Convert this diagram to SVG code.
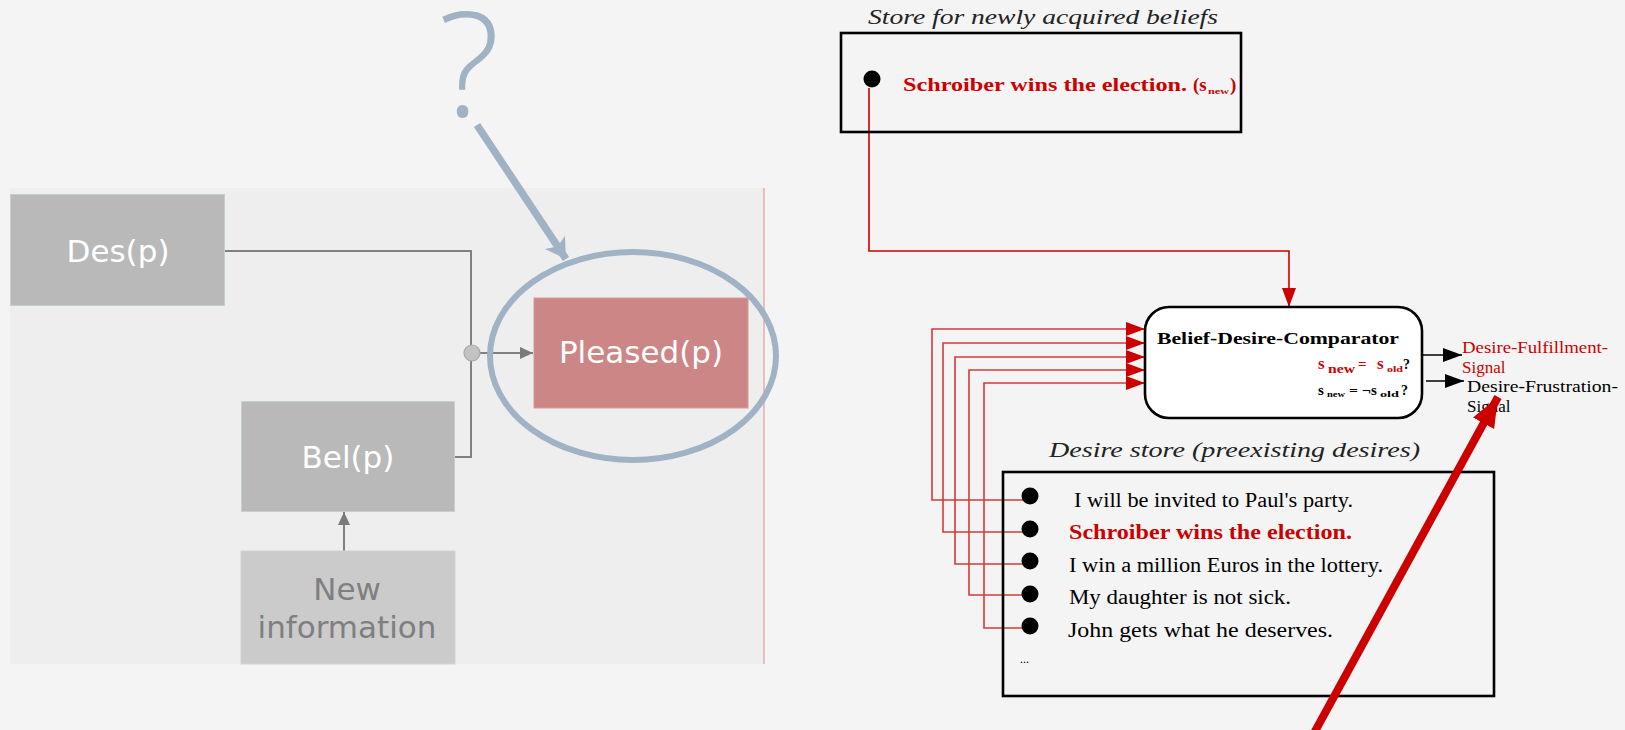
<svg xmlns="http://www.w3.org/2000/svg" width="1625" height="730" viewBox="0 0 1625 730">
<style>
.bg{fill:#f4f4f4}
.panel{fill:#eeeeee}
.gbox{fill:#b9b9b9;stroke:#c6cfcf;stroke-width:1}
.lbl{font-family:"DejaVu Sans",sans-serif;font-size:31px;fill:#ffffff;text-anchor:middle}
.glink{fill:none;stroke:#808080;stroke-width:2}
.rlink{fill:none;stroke:#d13b3b;stroke-width:1.6}
.mlink{fill:none;stroke:#cc0000;stroke-width:1.6}
.store{fill:none;stroke:#000;stroke-width:2.6}
.serif{font-family:"Liberation Serif","Times New Roman",serif}
.it{font-style:italic;font-size:21px;fill:#222}
.item{font-size:20px;fill:#000}
.red{fill:#cc0000}
.bold{font-weight:bold}
</style>
<defs>
<marker id="ag" markerUnits="userSpaceOnUse" markerWidth="14" markerHeight="14" refX="13" refY="6" orient="auto"><path d="M0,0 L13,6 L0,12 Z" fill="#7a7a7a"/></marker>
<marker id="ar" markerUnits="userSpaceOnUse" markerWidth="20" markerHeight="16" refX="19" refY="7" orient="auto"><path d="M0,0 L19,7 L0,14 Z" fill="#cc0000"/></marker>
<marker id="ak" markerUnits="userSpaceOnUse" markerWidth="20" markerHeight="16" refX="19" refY="7" orient="auto"><path d="M0,0 L19,7 L0,14 Z" fill="#000"/></marker>
<marker id="ab" markerUnits="userSpaceOnUse" markerWidth="24" markerHeight="26" refX="20" refY="12" orient="auto"><path d="M0,0 L20,12 L0,24 L5,12 Z" fill="#a0b3c4"/></marker>
<marker id="abig" markerUnits="userSpaceOnUse" markerWidth="32" markerHeight="26" refX="30" refY="12" orient="auto"><path d="M0,0 L30,12 L0,24 Z" fill="#cc0000"/></marker>
</defs>
<rect class="bg" x="0" y="0" width="1625" height="730"/>
<rect class="panel" x="10" y="188" width="754" height="476"/>
<line x1="764" y1="188" x2="764" y2="664" stroke="#e99a9a" stroke-width="1.2"/>

<g id="connectors">
<path class="glink" d="M225,251 H471 V457 H455"/>
<path class="glink" d="M471,353 H533" marker-end="url(#ag)"/>
<path class="glink" d="M344,551 V512" marker-end="url(#ag)"/>
<path class="mlink" d="M869,88 V251 H1289 V307" marker-end="url(#ar)"/>
<path class="rlink" d="M1030,500 H932 V329 H1145" marker-end="url(#ar)"/>
<path class="rlink" d="M1030,532 H943 V343 H1145" marker-end="url(#ar)"/>
<path class="rlink" d="M1030,564 H955 V357 H1145" marker-end="url(#ar)"/>
<path class="rlink" d="M1030,595 H969 V370 H1145" marker-end="url(#ar)"/>
<path class="rlink" d="M1030,628 H984 V383 H1145" marker-end="url(#ar)"/>
<path d="M1422,355 H1462" stroke="#000" stroke-width="1.6" fill="none" marker-end="url(#ak)"/>
<path d="M1426,381 H1464" stroke="#000" stroke-width="1.6" fill="none" marker-end="url(#ak)"/>
</g>

<g id="des">
<rect class="gbox" x="10.5" y="194.5" width="214" height="111"/>
<text class="lbl" x="118" y="262">Des(p)</text>
</g>
<g id="bel">
<rect class="gbox" x="241.5" y="401.5" width="213" height="110"/>
<text class="lbl" x="348" y="468">Bel(p)</text>
</g>
<g id="newinfo">
<rect x="241" y="551" width="214" height="113" fill="#cbcbcb" stroke="#d2d2d2" stroke-width="1"/>
<text class="lbl" x="347" y="600" style="fill:#7f7f7f">New</text>
<text class="lbl" x="347" y="638" style="fill:#7f7f7f">information</text>
</g>
<g id="junction">
<circle cx="472" cy="353" r="8" fill="#c2c2c2" stroke="#a9a9a9" stroke-width="1.2"/>
</g>
<g id="pleased">
<rect x="534" y="298" width="214" height="110" fill="#cc8686" stroke="#d49a9a" stroke-width="1"/>
<text class="lbl" x="641" y="363">Pleased(p)</text>
</g>

<g id="question">
<text x="469" y="117" font-family="'Open Sans',sans-serif" font-weight="300" font-size="146" fill="#a0b3c4" text-anchor="middle">?</text>
<line x1="477" y1="125" x2="566" y2="259" stroke="#a0b3c4" stroke-width="7.5" marker-end="url(#ab)"/>
<ellipse cx="633" cy="356" rx="143" ry="104" fill="none" stroke="#a0b3c4" stroke-width="6"/>
</g>

<g id="belief-store">
<text class="serif it" x="868" y="24" textLength="350" lengthAdjust="spacingAndGlyphs">Store for newly acquired beliefs</text>
<rect class="store" x="841" y="33" width="400" height="99"/>
<circle cx="872" cy="79" r="8.5" fill="#000"/>
<text class="serif red bold" x="903" y="91" font-size="19" textLength="284" lengthAdjust="spacingAndGlyphs">Schroiber wins the election.</text>
<text class="serif red bold" x="1193" y="91" font-size="19">(s</text>
<text class="serif red bold" x="1208" y="94" font-size="9" textLength="21" lengthAdjust="spacingAndGlyphs">new</text>
<text class="serif red bold" x="1230" y="91" font-size="19">)</text>
</g>

<g id="comparator">
<rect x="1145" y="307" width="277" height="111" rx="24" ry="24" fill="#ffffff" stroke="#000" stroke-width="2.6"/>
<text class="serif bold" x="1157" y="344" font-size="17" textLength="242" lengthAdjust="spacingAndGlyphs">Belief-Desire-Comparator</text>
<text class="serif bold red" x="1318" y="369" font-size="17">s</text>
<text class="serif bold red" x="1328" y="373" font-size="12" textLength="27" lengthAdjust="spacingAndGlyphs">new</text>
<text class="serif bold red" x="1358" y="369" font-size="15">=</text>
<text class="serif bold red" x="1377" y="369" font-size="17">s</text>
<text class="serif bold red" x="1387" y="372" font-size="9" textLength="16" lengthAdjust="spacingAndGlyphs">old</text>
<text class="serif bold" x="1403" y="369" font-size="14">?</text>
<text class="serif bold" x="1318" y="395" font-size="15">s</text>
<text class="serif bold" x="1327" y="397" font-size="8" textLength="18" lengthAdjust="spacingAndGlyphs">new</text>
<text class="serif bold" x="1349" y="395" font-size="13" textLength="22" lengthAdjust="spacingAndGlyphs">= ¬</text>
<text class="serif bold" x="1371" y="395" font-size="15">s</text>
<text class="serif bold" x="1380" y="397" font-size="9" textLength="19" lengthAdjust="spacingAndGlyphs">old</text>
<text class="serif bold" x="1401" y="395" font-size="14">?</text>
</g>

<g id="fulfillment">
<text class="serif red" x="1462" y="353" font-size="17" textLength="146" lengthAdjust="spacingAndGlyphs">Desire-Fulfillment-</text>
<text class="serif red" x="1462" y="373" font-size="17">Signal</text>
</g>
<g id="frustration">
<text class="serif" x="1467" y="392" font-size="17" fill="#000" textLength="151" lengthAdjust="spacingAndGlyphs">Desire-Frustration-</text>
<text class="serif" x="1467" y="412" font-size="17" fill="#000">Signal</text>
</g>

<g id="desire-store">
<text class="serif it" x="1049" y="457" textLength="371" lengthAdjust="spacingAndGlyphs">Desire store (preexisting desires)</text>
<rect class="store" x="1003" y="472" width="491" height="224"/>
<circle cx="1030" cy="496" r="8.5" fill="#000"/>
<circle cx="1030" cy="529" r="8.5" fill="#000"/>
<circle cx="1030" cy="561" r="8.5" fill="#000"/>
<circle cx="1030" cy="594" r="8.5" fill="#000"/>
<circle cx="1030" cy="626" r="8.5" fill="#000"/>
<text class="serif item" x="1074" y="507" textLength="279" lengthAdjust="spacingAndGlyphs">I will be invited to Paul's party.</text>
<text class="serif item bold red" x="1069" y="539" font-size="19" textLength="283" lengthAdjust="spacingAndGlyphs">Schroiber wins the election.</text>
<text class="serif item" x="1069" y="572" textLength="314" lengthAdjust="spacingAndGlyphs">I win a million Euros in the lottery.</text>
<text class="serif item" x="1069" y="604" textLength="222" lengthAdjust="spacingAndGlyphs">My daughter is not sick.</text>
<text class="serif item" x="1068" y="637" textLength="265" lengthAdjust="spacingAndGlyphs">John gets what he deserves.</text>
<text class="serif" x="1020" y="663" font-size="12" fill="#000">...</text>
</g>

<g id="annotation">
<line x1="1313" y1="735" x2="1498" y2="397" stroke="#cc0000" stroke-width="8" marker-end="url(#abig)"/>
</g>
</svg>
